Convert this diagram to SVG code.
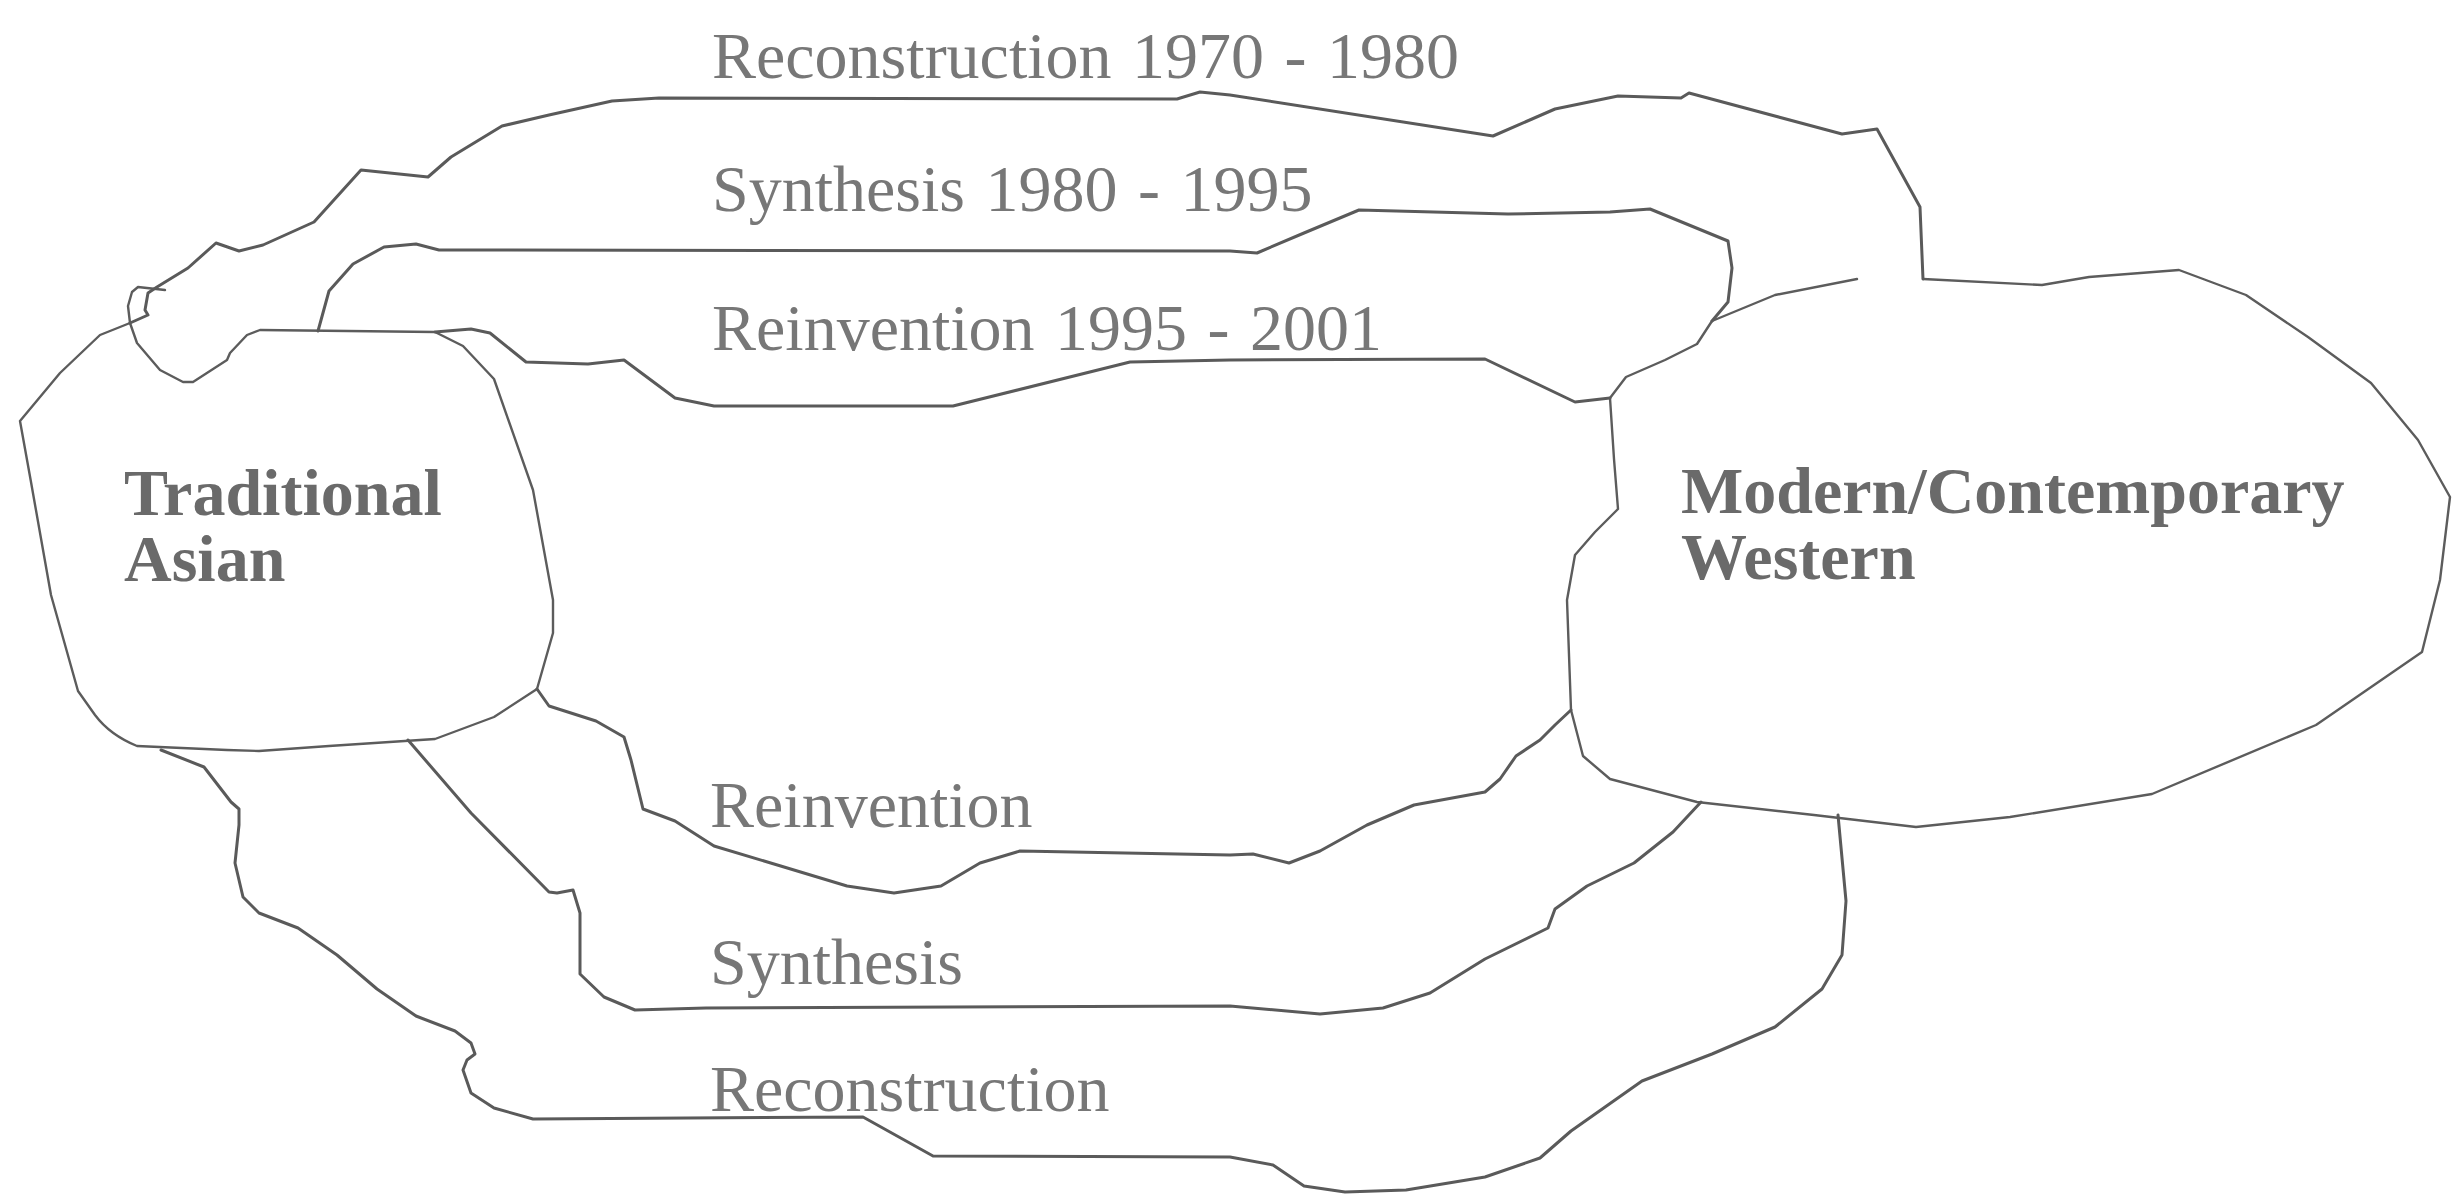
<svg xmlns="http://www.w3.org/2000/svg" width="2456" height="1195" viewBox="0 0 2456 1195">
<style>
.edge{fill:none;stroke:#5c5c5c;stroke-width:2.4;stroke-linejoin:round;stroke-linecap:round}
.band{fill:none;stroke:#5a5a5a;stroke-width:3;stroke-linejoin:round;stroke-linecap:round}
.lbl{font-family:"Liberation Serif","Times New Roman",serif;font-size:66px;fill:#777777;word-spacing:4px}
.node{font-family:"Liberation Serif","Times New Roman",serif;font-size:66px;font-weight:bold;fill:#6a6a6a}
</style>
<rect width="2456" height="1195" fill="#ffffff"/>
<g id="node-traditional-asian">
<path class="edge" d="M260,330 L435,332 L463,346 L494,379 L533,490 L553,600 L553,633 L537,689 L494,717 L435,739 L329,746 L259,751 L227,750 L137,746 Q110,735 95,715 L78,691 L51,595 L31,482 L20,421 L60,373 L100,335 L130,323 L137,343 L160,370 L183,382 L193,382 L227,360 L230,353 L247,335 Z"/>
<path class="edge" d="M130,323 L128,306 L132,292 L138,287 L165,290"/>
<text class="node" x="124" y="515">Traditional</text>
<text class="node" x="124" y="581">Asian</text>
</g>
<g id="node-modern-western">
<path class="edge" d="M1857,279 L1775,295 L1712,321 L1697,344 L1665,360 L1626,377 L1610,398 L1614,459 L1618,509 L1595,532 L1575,555 L1567,600 L1571,710 L1583,756 L1610,779 L1697,802 L1814,815 L1916,827 L2010,817 L2152,794 L2316,725 L2422,652 L2440,580 L2450,497 L2418,440 L2371,383 L2308,337 L2246,295 L2179,270 L2089,277 L2042,285 L1923,279"/>
<text class="node" x="1681" y="513">Modern/Contemporary</text>
<text class="node" x="1681" y="579">Western</text>
</g>
<g id="connectors">
<polyline class="band" points="130,323 148,315 145,310 148,293 157,287 188,268 216,243 239,251 263,245 314,222 361,170 428,177 451,157 502,126 549,115 612,101 659,98 1177,99 1200,92 1230,95 1493,136 1555,109 1618,96 1681,98 1689,93 1842,134 1877,129 1920,207 1923,279"/>
<polyline class="band" points="318,331 329,291 353,264 384,247 416,244 439,250 1230,251 1257,253 1304,233 1359,210 1508,214 1610,212 1650,209 1728,241 1732,268 1728,302 1712,321"/>
<polyline class="band" points="435,332 471,329 490,333 526,362 588,364 624,360 675,398 714,406 953,406 1130,362 1230,360 1485,359 1575,402 1610,398"/>
<polyline class="band" points="537,689 549,706 596,721 624,737 631,760 643,809 675,821 714,846 784,867 847,886 894,893 941,886 980,863 1020,851 1230,855 1253,854 1289,863 1320,851 1367,825 1414,805 1485,792 1500,779 1516,756 1540,740 1555,725 1571,710"/>
<polyline class="band" points="408,740 471,813 549,892 557,893 573,890 580,913 580,974 604,997 635,1010 706,1008 1230,1006 1320,1014 1383,1008 1430,993 1485,959 1548,928 1555,909 1587,886 1634,863 1673,832 1701,802"/>
<polyline class="band" points="161,750 204,767 231,802 239,809 239,825 235,863 243,897 259,913 298,928 337,955 377,989 416,1016 455,1031 471,1043 475,1054 467,1060 463,1070 471,1093 494,1108 533,1119 863,1117 933,1156 1230,1157 1273,1165 1304,1186 1345,1192 1406,1190 1485,1177 1540,1158 1571,1131 1642,1081 1712,1054 1775,1027 1822,989 1842,955 1846,901 1838,815"/>
<text class="lbl" x="712" y="78">Reconstruction 1970 - 1980</text>
<text class="lbl" x="712" y="211">Synthesis 1980 - 1995</text>
<text class="lbl" x="712" y="350">Reinvention 1995 - 2001</text>
<text class="lbl" x="710" y="827">Reinvention</text>
<text class="lbl" x="710" y="984">Synthesis</text>
<text class="lbl" x="710" y="1111">Reconstruction</text>
</g>
</svg>
